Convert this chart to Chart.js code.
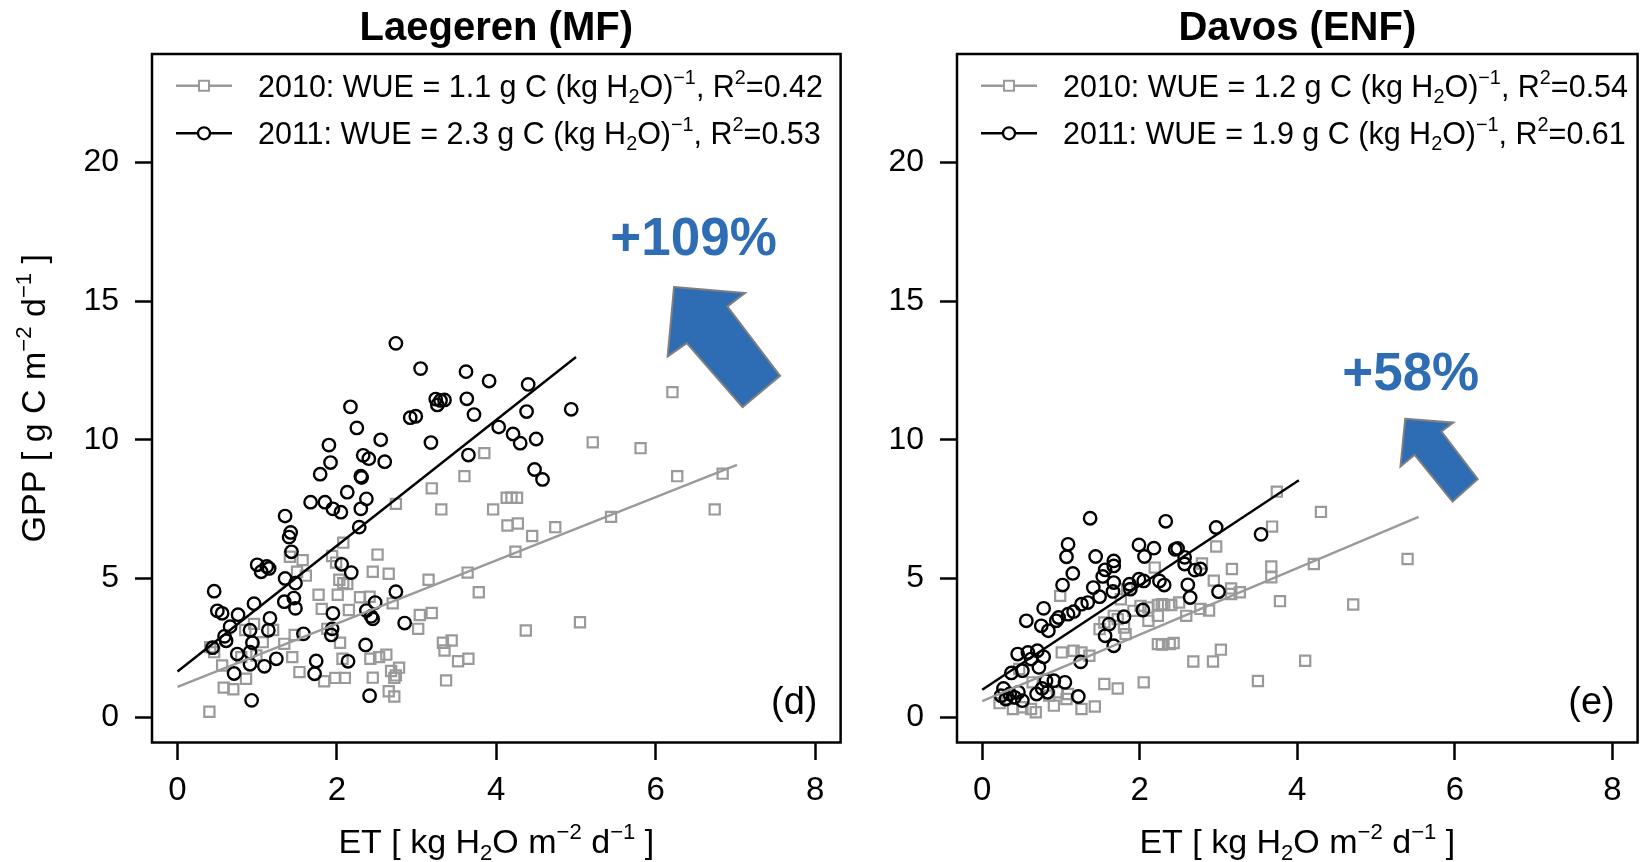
<!DOCTYPE html>
<html lang="en">
<head>
<meta charset="UTF-8">
<title>GPP vs ET - Laegeren and Davos</title>
<script src="https://cdn.jsdelivr.net/npm/chart.js"></script>
<style>
  body { margin: 0; background: #fff; }
  #wrap { position: relative; width: 1647px; height: 862px; overflow: hidden; }
  #wrap canvas { position: absolute; top: 0; }
</style>
</head>
<body>
<div id="wrap">
  <canvas id="laegeren" width="850" height="862" style="left:0px"></canvas>
  <canvas id="davos" width="797" height="862" style="left:850px"></canvas>
</div>

<script>
// ---- data ----
const years = ['2010', '2011'];
const xTicks = [0, 2, 4, 6, 8];
const yTicks = [0, 5, 10, 15, 20];

// Laegeren (MF), daily ET and GPP
const laeET2010 = [0.40,0.58,0.70,0.86,0.56,0.46,0.41,0.80,0.99,0.85,0.96,1.20,1.07,1.34,1.47,1.44,1.53,1.84,1.98,2.10,
  2.07,2.04,1.88,1.81,1.77,2.01,2.15,2.29,2.41,2.03,2.08,2.13,1.61,1.50,1.57,1.41,1.94,1.99,2.08,2.45,
  2.65,2.51,2.74,3.19,3.31,3.60,3.85,3.96,3.15,3.64,3.78,3.19,3.04,3.02,2.70,2.68,2.78,2.74,2.72,2.65,
  2.72,2.45,2.42,2.53,2.62,3.37,3.33,3.44,3.35,3.52,3.65,6.21,5.21,5.81,6.27,6.84,6.74,5.44,4.13,4.19,
  4.26,4.14,4.27,4.45,4.74,4.24,4.37,5.05];
const laeGPP2010 = [0.19,1.06,1.00,1.38,1.86,2.34,2.52,2.16,2.22,3.14,3.36,3.14,2.70,2.64,2.96,2.16,1.62,1.29,1.41,1.41,
  2.10,2.68,3.18,3.90,4.41,4.41,3.86,4.32,4.34,4.95,4.83,4.80,5.10,5.24,5.66,5.78,5.81,5.57,6.29,5.24,
  5.17,5.86,7.69,8.25,7.49,8.69,9.52,7.49,4.95,5.21,4.50,3.75,3.68,3.18,4.10,1.66,1.78,1.50,1.41,0.93,
  0.74,1.42,2.10,2.16,2.25,1.32,2.68,2.76,2.40,2.01,2.10,11.72,9.91,9.70,8.69,8.78,7.49,7.22,7.91,7.91,
  7.91,6.91,6.98,6.53,6.85,5.96,3.12,3.42];
const laeET2011 = [2.74,3.05,3.62,3.91,3.24,3.30,3.35,3.26,3.63,3.72,2.17,2.92,2.99,2.25,2.55,1.90,3.18,2.33,2.40,2.60,
  1.92,1.79,2.30,2.31,3.65,2.13,1.67,1.85,1.95,2.05,2.37,2.30,1.35,2.28,1.42,1.40,1.43,1.00,1.05,1.12,
  1.15,1.35,1.48,2.06,2.18,0.46,0.50,0.56,0.76,0.96,1.34,1.46,1.48,1.16,1.14,0.66,0.59,0.61,0.44,0.91,
  0.94,0.91,0.75,0.71,0.91,1.09,1.24,0.93,1.58,1.95,1.94,1.93,1.74,1.72,2.14,2.36,2.41,2.37,2.48,2.43,
  2.45,2.74,2.85,4.40,4.38,4.94,4.03,4.21,4.30,4.50,4.48,4.58];
const laeGPP2011 = [13.48,12.57,12.46,12.12,11.47,11.42,11.44,11.26,11.48,10.91,11.19,10.80,10.85,10.43,10.00,9.81,9.90,9.44,9.32,9.21,
  9.18,8.76,8.69,8.64,9.45,8.11,7.75,7.75,7.51,7.39,7.87,7.51,7.25,6.85,6.66,6.49,5.96,5.49,5.24,5.43,
  5.36,5.00,4.83,5.51,5.21,4.54,3.83,3.74,3.69,4.09,4.16,4.29,3.92,3.56,3.13,3.26,2.91,2.75,2.50,3.13,
  2.68,2.34,2.27,1.57,1.90,1.83,2.10,0.60,3.00,3.74,3.18,2.96,2.02,1.56,2.01,2.60,0.77,3.84,4.13,3.63,
  3.54,4.52,3.39,12.00,11.02,11.10,10.46,10.21,9.88,10.03,8.93,8.57];
const laeWUE = [1.14, 2.27];        // fitted slopes, g C (kg H2O)^-1
const laeIntercept = [1.09, 1.64];
const laeFitEnd = [7.02, 5.00];     // ET where each fit line stops
const laeR2 = ['0.42', '0.53'];

// Davos (ENF), daily ET and GPP
const davET2010 = [0.99,1.76,1.84,2.19,2.23,2.31,2.40,2.23,2.11,1.67,1.80,1.82,1.49,1.55,2.23,2.38,1.01,1.16,1.36,1.26,
  1.55,1.72,2.05,0.47,0.64,0.95,1.07,1.09,1.26,1.43,0.39,0.51,0.62,0.91,0.22,0.31,0.85,0.68,2.11,1.72,
  2.01,1.92,3.74,4.30,3.68,2.97,2.79,3.17,3.67,3.67,4.21,5.40,2.94,3.16,3.27,3.16,3.78,4.71,2.88,2.77,
  2.59,2.50,2.28,3.03,2.93,2.68,2.43,2.28,4.10,3.50];
const davGPP2010 = [4.37,4.25,4.61,5.39,4.04,4.04,4.04,3.65,3.47,3.65,3.23,2.99,3.17,3.41,2.63,2.63,2.33,2.39,2.21,2.33,
  1.19,1.03,1.25,1.73,1.25,0.89,0.65,0.83,0.29,0.38,0.29,0.35,0.29,0.41,0.50,0.65,0.77,0.17,3.95,3.53,
  4.01,3.83,8.13,7.40,6.87,6.15,5.54,5.34,5.43,5.04,5.52,5.70,4.92,4.64,4.50,4.44,4.18,4.06,3.84,3.90,
  3.65,4.13,4.07,2.43,2.00,2.00,2.67,2.61,2.03,1.30];
const davET2011 = [1.37,2.33,1.09,1.07,1.44,1.99,2.06,2.18,2.45,1.67,1.67,1.56,1.15,1.53,1.02,1.67,1.41,1.87,1.99,2.05,
  2.25,2.31,1.88,1.66,1.49,1.34,1.26,1.16,0.78,0.56,0.75,0.84,0.94,0.97,1.09,2.04,1.80,1.61,1.56,1.67,
  0.45,0.58,0.70,0.62,0.78,0.72,0.51,0.37,1.25,1.05,0.91,0.81,0.76,0.69,0.83,0.24,0.30,0.35,0.41,0.46,
  0.51,0.27,1.22,2.97,3.54,2.48,2.57,2.57,2.70,2.77,2.61,2.64,3.00];
const davGPP2011 = [7.17,7.06,6.23,5.78,5.79,6.21,5.79,6.09,6.05,5.63,5.45,5.31,5.18,5.07,4.76,4.85,4.67,4.79,4.97,4.91,
  4.91,4.76,4.61,4.53,4.34,4.13,4.07,3.80,3.92,3.47,3.29,3.11,3.47,3.59,3.71,3.86,3.62,3.35,2.93,2.57,
  2.27,2.33,2.39,2.09,2.17,1.79,1.67,1.59,1.99,1.25,1.31,1.31,1.03,0.83,0.89,0.77,0.65,0.83,0.71,0.89,
  0.59,1.03,0.74,6.84,6.59,6.08,5.76,5.52,5.30,5.34,4.77,4.31,4.52];
const davWUE = [1.20, 1.88];
const davIntercept = [0.57, 0.98];
const davFitEnd = [5.54, 4.02];
const davR2 = ['0.54', '0.61'];

// ---- look ----
const GREY = '#9a9a9a';
const BLUE = '#2e6db4';
Chart.defaults.font.family = "'Liberation Sans', Arial, Helvetica, sans-serif";
Chart.defaults.color = '#000';

// draw text made of plain / superscript / subscript runs
function richWidth(ctx, parts, size) {
  let w = 0;
  parts.forEach(([t, m]) => {
    ctx.font = (m ? size * 0.65 : size) + 'px ' + Chart.defaults.font.family;
    w += ctx.measureText(t).width;
  });
  return w;
}
function drawRich(ctx, parts, x, y, size, align) {
  let cx = align === 'center' ? x - richWidth(ctx, parts, size) / 2 : x;
  ctx.textAlign = 'left';
  ctx.textBaseline = 'alphabetic';
  parts.forEach(([t, m]) => {
    const s = m ? size * 0.65 : size;
    ctx.font = s + 'px ' + Chart.defaults.font.family;
    const dy = m === 'sup' ? -size * 0.42 : (m === 'sub' ? size * 0.2 : 0);
    ctx.fillText(t, cx, y + dy);
    cx += ctx.measureText(t).width;
  });
}

function panelDecor(p) {
  return {
    id: 'panelDecor',
    afterDraw(chart) {
      const { ctx, chartArea: a, scales: { x, y } } = chart;
      ctx.save();
      ctx.fillStyle = '#000';

      // frame
      ctx.strokeStyle = '#000';
      ctx.lineWidth = 2.5;
      ctx.strokeRect(a.left, a.top, a.right - a.left, a.bottom - a.top);

      // title
      const mid = (a.left + a.right) / 2;
      ctx.font = 'bold 40px ' + Chart.defaults.font.family;
      ctx.textAlign = 'center';
      ctx.textBaseline = 'alphabetic';
      ctx.fillText(p.title, mid, 40);

      // axis titles
      drawRich(ctx, [['ET [ kg H', ''], ['2', 'sub'], ['O m', ''], ['\u22122', 'sup'],
        [' d', ''], ['\u22121', 'sup'], [' ]', '']], mid, 853, 34, 'center');
      if (p.yTitle) {
        ctx.save();
        ctx.translate(45, (a.top + a.bottom) / 2);
        ctx.rotate(-Math.PI / 2);
        drawRich(ctx, [['GPP [ g C m', ''], ['\u22122', 'sup'], [' d', ''], ['\u22121', 'sup'], [' ]', '']],
          0, 0, 34, 'center');
        ctx.restore();
      }

      // legend
      [0, 1].forEach(k => {
        const ly = a.top + (k ? 79.3 : 31.7);
        const col = k ? '#000' : GREY;
        ctx.strokeStyle = col;
        ctx.lineWidth = 2.4;
        ctx.beginPath();
        ctx.moveTo(a.left + 24, ly);
        ctx.lineTo(a.left + 80, ly);
        ctx.stroke();
        ctx.fillStyle = '#fff';
        ctx.lineWidth = k ? 2.3 : 2;
        ctx.beginPath();
        if (k) ctx.arc(a.left + 52, ly, 6, 0, Math.PI * 2);
        else ctx.rect(a.left + 52 - 5, ly - 5, 10, 10);
        ctx.fill();
        ctx.stroke();
        ctx.fillStyle = '#000';
        drawRich(ctx, [[years[k] + ': WUE = ' + p.wue[k].toFixed(1) + ' g C (kg H', ''], ['2', 'sub'],
          ['O)', ''], ['\u22121', 'sup'], [', R', ''], ['2', 'sup'], ['=' + p.r2[k], '']],
          a.left + 106, ly + 11, 30.5, 'left');
      });

      // panel letter
      ctx.font = '38px ' + Chart.defaults.font.family;
      ctx.textAlign = 'right';
      ctx.textBaseline = 'alphabetic';
      ctx.fillText(p.letter, x.getPixelForValue(8.03), y.getPixelForValue(0.1));

      // change arrow and percentage
      ctx.beginPath();
      p.arrow.forEach(([vx, vy], i) => {
        const px = x.getPixelForValue(vx), py = y.getPixelForValue(vy);
        i ? ctx.lineTo(px, py) : ctx.moveTo(px, py);
      });
      ctx.closePath();
      ctx.fillStyle = BLUE;
      ctx.fill();
      ctx.strokeStyle = '#7f7f7f';
      ctx.lineWidth = 2;
      ctx.stroke();
      ctx.font = 'bold 53px ' + Chart.defaults.font.family;
      ctx.textAlign = 'left';
      ctx.fillText(p.change, x.getPixelForValue(p.changeAt[0]), y.getPixelForValue(p.changeAt[1]));

      ctx.restore();
    }
  };
}

function buildPanel(id, p) {
  const pts = (xs, ys) => xs.map((v, i) => ({ x: v, y: ys[i] }));
  const fit = k => [{ x: 0, y: p.intercept[k] },
                    { x: p.fitEnd[k], y: p.intercept[k] + p.wue[k] * p.fitEnd[k] }];
  const tickOpts = (len, size, pad) => ({
    grid: { drawOnChartArea: false, drawTicks: true, tickLength: len, tickWidth: 2.5, tickColor: '#000' },
    border: { display: false },
    ticks: { color: '#000', font: { size: size }, padding: pad, maxRotation: 0, autoSkip: false }
  });
  return new Chart(document.getElementById(id), {
    type: 'scatter',
    data: {
      datasets: [
        { label: years[1] + ' fit', data: fit(1), showLine: true, borderColor: '#000', borderWidth: 2.4, pointRadius: 0 },
        { label: years[0] + ' fit', data: fit(0), showLine: true, borderColor: GREY, borderWidth: 2.4, pointRadius: 0 },
        { label: years[1], data: pts(p.et[1], p.gpp[1]), pointStyle: 'circle', pointRadius: 6.2,
          borderColor: '#000', borderWidth: 2.4, backgroundColor: 'rgba(0,0,0,0)' },
        { label: years[0], data: pts(p.et[0], p.gpp[0]), pointStyle: 'rect', pointRadius: 7.2,
          borderColor: GREY, borderWidth: 2.2, backgroundColor: 'rgba(0,0,0,0)' }
      ]
    },
    options: {
      responsive: false,
      animation: false,
      devicePixelRatio: 1,
      layout: { padding: { top: 54, right: p.padRight, left: 0, bottom: 0 } },
      plugins: { legend: { display: false }, tooltip: { enabled: false } },
      scales: {
        x: Object.assign({
          type: 'linear', min: -0.32, max: 8.32,
          afterBuildTicks: s => { s.ticks = xTicks.map(v => ({ value: v })); },
          afterFit: s => { s.height = 119.5; }
        }, tickOpts(17.5, 33, 11)),
        y: Object.assign({
          type: 'linear', min: -0.92, max: 23.92,
          afterBuildTicks: s => { s.ticks = yTicks.map(v => ({ value: v })); },
          afterFit: s => { s.width = p.axisWidth; }
        }, tickOpts(17, 32, 16))
      }
    },
    plugins: [panelDecor(p)]
  });
}

buildPanel('laegeren', {
  title: 'Laegeren (MF)', letter: '(d)', yTitle: true,
  et: [laeET2010, laeET2011], gpp: [laeGPP2010, laeGPP2011],
  wue: laeWUE, intercept: laeIntercept, fitEnd: laeFitEnd, r2: laeR2,
  change: '+109%', changeAt: [5.43, 16.68],
  arrow: [[6.23, 15.51], [7.12, 15.30], [6.90, 14.81], [7.56, 12.31], [7.09, 11.18], [6.39, 13.49], [6.15, 13.01]],
  axisWidth: 152, padRight: 5.5
});

buildPanel('davos', {
  title: 'Davos (ENF)', letter: '(e)', yTitle: false,
  et: [davET2010, davET2011], gpp: [davGPP2010, davGPP2011],
  wue: davWUE, intercept: davIntercept, fitEnd: davFitEnd, r2: davR2,
  change: '+58%', changeAt: [4.57, 11.81],
  arrow: [[5.37, 10.76], [5.98, 10.62], [5.83, 10.30], [6.29, 8.58], [5.97, 7.77], [5.49, 9.46], [5.31, 9.04]],
  axisWidth: 107, padRight: 3
});
</script>
</body>
</html>
